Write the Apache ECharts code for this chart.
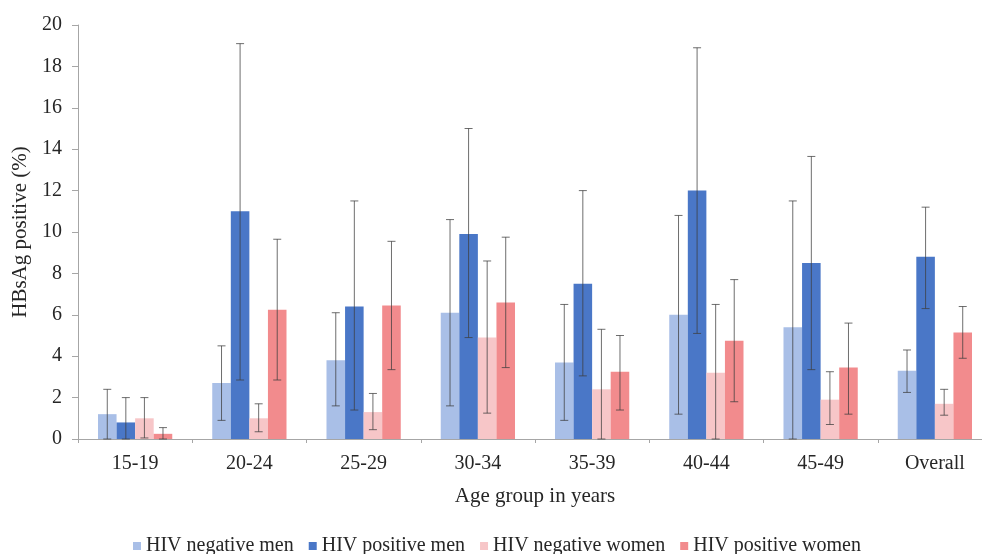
<!DOCTYPE html>
<html>
<head>
<meta charset="utf-8">
<script src="https://cdn.jsdelivr.net/npm/echarts@6/dist/echarts.min.js"></script>
<style>
  html, body { margin: 0; padding: 0; background: #ffffff; overflow: hidden; }
  /* the plot runs slightly past the right edge of the window */
  #chart { width: 994px; height: 554px; }
</style>
</head>
<body>
<div id="chart"></div>
<script>
// Age groups on the x axis
const categories = ['15-19', '20-24', '25-29', '30-34', '35-39', '40-44', '45-49', 'Overall'];

// HBsAg prevalence (%) by group
const hivNegMen   = [1.2, 2.7, 3.8, 6.1, 3.7, 6.0, 5.4, 3.3];
const hivPosMen   = [0.8, 11.0, 6.4, 9.9, 7.5, 12.0, 8.5, 8.8];
const hivNegWomen = [1.0, 1.0, 1.3, 4.9, 2.4, 3.2, 1.9, 1.7];
const hivPosWomen = [0.25, 6.25, 6.45, 6.6, 3.25, 4.75, 3.45, 5.15];

// 95% confidence interval bounds
const hivNegMenLow    = [0.0, 0.9, 1.6, 1.6, 0.9, 1.2, 0.0, 2.25];
const hivNegMenHigh   = [2.4, 4.5, 6.1, 10.6, 6.5, 10.8, 11.5, 4.3];
const hivPosMenLow    = [0.0, 2.85, 1.4, 4.9, 3.05, 5.1, 3.35, 6.3];
const hivPosMenHigh   = [2.0, 19.1, 11.5, 15.0, 12.0, 18.9, 13.65, 11.2];
const hivNegWomenLow  = [0.05, 0.35, 0.45, 1.25, 0.0, 0.0, 0.7, 1.15];
const hivNegWomenHigh = [2.0, 1.7, 2.2, 8.6, 5.3, 6.5, 3.25, 2.4];
const hivPosWomenLow  = [0.0, 2.85, 3.35, 3.45, 1.4, 1.8, 1.2, 3.9];
const hivPosWomenHigh = [0.55, 9.65, 9.55, 9.75, 5.0, 7.7, 5.6, 6.4];

const seriesNames = ['HIV negative men', 'HIV positive men', 'HIV negative women', 'HIV positive women'];
const seriesColors = ['#a9bfe7', '#4a77c7', '#f7c6c8', '#f28b8d'];
const values = [hivNegMen, hivPosMen, hivNegWomen, hivPosWomen];
const lows = [hivNegMenLow, hivPosMenLow, hivNegWomenLow, hivPosWomenLow];
const highs = [hivNegMenHigh, hivPosMenHigh, hivNegWomenHigh, hivPosWomenHigh];

const CATEGORY_GAP = 0.35;
const serif = 'Liberation Serif';
const textColor = '#262626';

const chart = echarts.init(document.getElementById('chart'));

// Error whiskers drawn on top of each bar of a series
function errorSeries(idx) {
  const data = categories.map((c, i) => [i, lows[idx][i], highs[idx][i]]);
  return {
    type: 'custom',
    name: seriesNames[idx] + ' CI',
    z: 5,
    silent: true,
    data: data,
    renderItem: function (params, api) {
      const cat = api.value(0);
      const lo = api.coord([cat, api.value(1)]);
      const hi = api.coord([cat, api.value(2)]);
      const bandWidth = api.size([1, 0])[0];
      const barW = bandWidth * (1 - CATEGORY_GAP) / 4;
      const x = lo[0] + (idx - 1.5) * barW;
      const cap = 4;
      const style = { stroke: '#3d3d3d', lineWidth: 1, opacity: 0.75 };
      return {
        type: 'group',
        children: [
          { type: 'line', shape: { x1: x, y1: hi[1], x2: x, y2: lo[1] }, style: style },
          { type: 'line', shape: { x1: x - cap, y1: hi[1], x2: x + cap, y2: hi[1] }, style: style },
          { type: 'line', shape: { x1: x - cap, y1: lo[1], x2: x + cap, y2: lo[1] }, style: style }
        ]
      };
    }
  };
}

const barSeries = values.map((vals, idx) => ({
  type: 'bar',
  name: seriesNames[idx],
  data: vals,
  barGap: '0%',
  barCategoryGap: (CATEGORY_GAP * 100) + '%',
  itemStyle: { color: seriesColors[idx] },
  z: 2
}));

chart.setOption({
  animation: false,
  backgroundColor: '#ffffff',
  grid: { left: 78, width: 914, top: 25, height: 414, containLabel: false },
  legend: {
    data: seriesNames,
    left: 128,
    top: 531,
    itemWidth: 8,
    itemHeight: 8,
    itemGap: 15,
    icon: 'rect',
    textStyle: { fontFamily: serif, fontSize: 20, color: textColor }
  },
  xAxis: {
    type: 'category',
    data: categories,
    name: 'Age group in years',
    nameLocation: 'middle',
    nameGap: 47,
    nameTextStyle: { fontFamily: serif, fontSize: 21, color: textColor },
    axisLine: { lineStyle: { color: '#a6a6a6', width: 1 } },
    axisTick: { show: true, length: 4, lineStyle: { color: '#a6a6a6' } },
    axisLabel: { fontFamily: serif, fontSize: 20, color: textColor, margin: 15 }
  },
  yAxis: {
    type: 'value',
    min: 0,
    max: 20,
    interval: 2,
    name: 'HBsAg positive (%)',
    nameLocation: 'middle',
    nameGap: 44,
    nameRotate: 90,
    nameTextStyle: { fontFamily: serif, fontSize: 21, color: textColor },
    axisLine: { show: true, lineStyle: { color: '#a6a6a6', width: 1 } },
    axisTick: { show: true, length: 6, lineStyle: { color: '#a6a6a6' } },
    splitLine: { show: false },
    axisLabel: { fontFamily: serif, fontSize: 20, color: textColor, margin: 16 }
  },
  series: barSeries.concat([0, 1, 2, 3].map(errorSeries))
});
</script>
</body>
</html>
